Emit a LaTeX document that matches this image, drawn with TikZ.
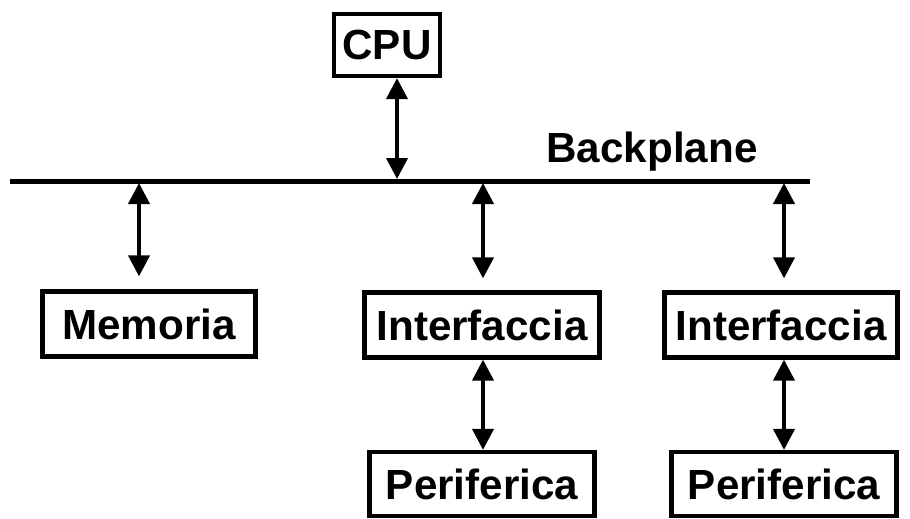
\documentclass[tikz,border=0pt]{standalone}
\usepackage{fontspec}
\setmainfont{Liberation Sans}
\usetikzlibrary{arrows.meta}

\begin{document}
\begin{tikzpicture}[x=0.02cm, y=-0.02cm,
    blk/.style={draw, line width=0.085cm, font=\fontsize{24}{28}\selectfont\bfseries,
      minimum height=1.3cm, inner sep=0pt},
    bus/.style={line width=0.1cm},
    biarrow/.style={line width=0.08cm, {Triangle[width=0.42cm,length=0.42cm]}-{Triangle[width=0.42cm,length=0.42cm]}}]
    \useasboundingbox (0,0) rectangle (910,518);

    \node[blk, minimum width=2.12cm, minimum height=1.24cm] (cpu) at (387,45) {CPU};
    \node[blk, minimum width=4.26cm] (mem) at (149,324) {Memoria};
    \node[blk, minimum width=4.7cm] (intA) at (482,325) {Interfaccia};
    \node[blk, minimum width=4.66cm] (intB) at (781,325) {Interfaccia};
    \node[blk, minimum width=4.5cm, minimum height=1.28cm] (perA) at (482,484) {Periferica};
    \node[blk, minimum width=4.5cm, minimum height=1.28cm] (perB) at (784,484) {Periferica};

    \draw[bus] (10,181) -- (810,181);
    \node[font=\fontsize{24}{28}\selectfont\bfseries] (bp) at (652,152) {Backplane};

    \coordinate (busC) at (397,179);
    \coordinate (busM) at (139,183);
    \coordinate (busA) at (483,183);
    \coordinate (busB) at (784,183);

    \draw[biarrow] (cpu.south -| busC) -- (busC);
    \draw[biarrow, shorten >=0.26cm] (busM) -- (mem.north -| busM);
    \draw[biarrow, shorten >=0.24cm] (busA) -- (intA.north -| busA);
    \draw[biarrow, shorten >=0.24cm] (busB) -- (intB.north -| busB);
    \draw[biarrow] (intA.south -| busA) -- (perA.north -| busA);
    \draw[biarrow] (intB.south -| busB) -- (perB.north -| busB);
\end{tikzpicture}
\end{document}
